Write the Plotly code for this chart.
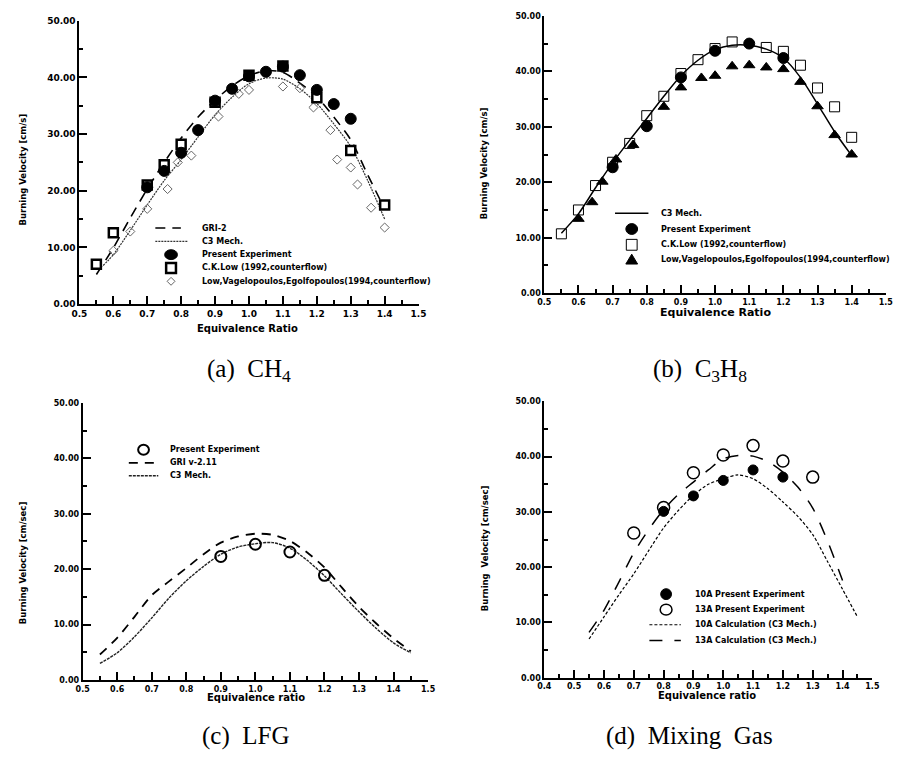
import plotly.graph_objects as go

W, H = 901, 759

# ---------------- (a) CH4 ----------------
A_GRI_x = [0.55, 0.6, 0.65, 0.7, 0.75, 0.8, 0.85, 0.9, 0.95, 1.0, 1.05, 1.1, 1.15, 1.2, 1.25, 1.3, 1.35, 1.4]
A_GRI_y = [5.2, 9.9, 15.2, 20.3, 25.0, 29.3, 33.0, 36.0, 38.5, 40.3, 41.2, 40.9, 39.0, 36.6, 33.0, 29.0, 22.8, 16.8]
A_C3_x = [0.57, 0.6, 0.65, 0.7, 0.75, 0.8, 0.85, 0.9, 0.95, 1.0, 1.05, 1.1, 1.15, 1.2, 1.25, 1.3, 1.35, 1.4]
A_C3_y = [6.8, 8.7, 13.0, 17.5, 21.8, 25.5, 29.5, 33.4, 36.5, 38.9, 39.9, 39.7, 38.0, 35.4, 31.8, 27.8, 21.8, 15.0]
A_EXP_x = [0.7, 0.75, 0.8, 0.85, 0.9, 0.95, 1.0, 1.05, 1.1, 1.15, 1.2, 1.25, 1.3]
A_EXP_y = [20.6, 23.5, 26.7, 30.7, 35.9, 38.0, 40.2, 41.0, 41.9, 40.4, 37.8, 35.3, 32.7]
A_CKL_x = [0.55, 0.6, 0.7, 0.75, 0.8, 0.9, 1.0, 1.1, 1.2, 1.3, 1.4]
A_CKL_y = [7.0, 12.6, 21.0, 24.6, 28.2, 35.6, 40.4, 42.0, 36.4, 27.1, 17.5]
A_LVE_x = [0.6, 0.65, 0.7, 0.76, 0.79, 0.83, 0.91, 0.97, 1.0, 1.1, 1.15, 1.19, 1.24, 1.26, 1.3, 1.32, 1.36, 1.4]
A_LVE_y = [9.4, 12.8, 16.8, 20.3, 25.0, 26.2, 33.1, 37.1, 37.8, 38.4, 38.1, 34.7, 30.7, 25.5, 24.1, 21.1, 17.0, 13.5]

# ---------------- (b) C3H8 ----------------
B_C3_x = [0.55, 0.6, 0.65, 0.7, 0.75, 0.8, 0.85, 0.9, 0.95, 1.0, 1.05, 1.1, 1.15, 1.2, 1.25, 1.3, 1.35, 1.4]
B_C3_y = [10.8, 14.3, 19.0, 23.5, 27.6, 31.5, 35.5, 39.2, 42.0, 43.9, 44.7, 44.7, 44.0, 42.4, 38.9, 34.1, 29.1, 24.8]
B_EXP_x = [0.7, 0.8, 0.9, 1.0, 1.1, 1.2]
B_EXP_y = [22.7, 30.1, 38.9, 43.7, 45.0, 42.4]
B_CKL_x = [0.55, 0.6, 0.65, 0.7, 0.75, 0.8, 0.85, 0.9, 0.95, 1.0, 1.05, 1.15, 1.2, 1.25, 1.3, 1.35, 1.4]
B_CKL_y = [10.7, 15.0, 19.4, 23.6, 27.0, 32.0, 35.5, 39.6, 42.1, 44.1, 45.3, 44.3, 43.6, 41.1, 37.0, 33.6, 28.1]
B_LVE_x = [0.6, 0.64, 0.67, 0.71, 0.76, 0.85, 0.9, 0.96, 1.0, 1.05, 1.1, 1.15, 1.2, 1.25, 1.3, 1.35, 1.4]
B_LVE_y = [13.4, 16.4, 20.1, 24.1, 26.7, 33.6, 37.1, 38.8, 39.2, 40.9, 41.1, 40.7, 40.4, 38.1, 33.7, 28.5, 25.0]

# ---------------- (c) LFG ----------------
C_EXP_x = [0.9, 1.0, 1.1, 1.2]
C_EXP_y = [22.3, 24.5, 23.1, 18.9]
C_CALC_x = [0.55, 0.6, 0.65, 0.7, 0.75, 0.8, 0.85, 0.9, 0.95, 1.0, 1.05, 1.1, 1.15, 1.2, 1.25, 1.3, 1.35, 1.4, 1.45]
C_GRI_y = [4.6, 7.6, 11.4, 15.3, 17.8, 20.2, 22.7, 24.8, 25.9, 26.4, 26.2, 25.1, 23.0, 20.3, 16.7, 13.2, 10.2, 7.5, 5.2]
C_C3_y = [3.0, 4.9, 7.8, 11.2, 14.8, 17.9, 20.5, 22.7, 24.0, 24.6, 24.8, 23.8, 21.6, 18.8, 15.5, 12.3, 9.3, 6.7, 4.9]

# ---------------- (d) Mixing Gas ----------------
D_10A_x = [0.8, 0.9, 1.0, 1.1, 1.2]
D_10A_y = [30.1, 32.9, 35.7, 37.6, 36.3]
D_13A_x = [0.7, 0.8, 0.9, 1.0, 1.1, 1.2, 1.3]
D_13A_y = [26.2, 30.8, 37.1, 40.3, 42.0, 39.2, 36.3]
D_10C_x = [0.55, 0.6, 0.65, 0.7, 0.75, 0.8, 0.85, 0.9, 0.95, 1.0, 1.05, 1.1, 1.15, 1.2, 1.25, 1.3, 1.35, 1.4, 1.45]
D_10C_y = [7.0, 11.0, 15.0, 18.8, 23.0, 27.1, 30.3, 33.0, 35.0, 36.0, 36.7, 36.0, 34.2, 31.8, 29.2, 25.9, 21.0, 16.0, 11.0]
D_13C_x = [0.55, 0.6, 0.65, 0.7, 0.75, 0.8, 0.85, 0.9, 0.95, 1.0, 1.05, 1.1, 1.15, 1.2, 1.25, 1.3, 1.35, 1.4]
D_13C_y = [8.2, 12.2, 17.3, 22.6, 26.8, 30.4, 33.2, 35.4, 37.6, 39.6, 40.2, 40.1, 39.1, 37.2, 34.5, 30.7, 24.7, 17.6]

# legend labels
A_NAMES = ["GRI-2", "C3 Mech.", "Present Experiment", "C.K.Low (1992,counterflow)",
           "Low,Vagelopoulos,Egolfopoulos(1994,counterflow)"]
B_NAMES = ["C3 Mech.", "Present Experiment", "C.K.Low (1992,counterflow)",
           "Low,Vagelopoulos,Egolfopoulos(1994,counterflow)"]
C_NAMES = ["Present Experiment", "GRI v-2.11", "C3 Mech."]
D_NAMES = ["10A Present Experiment", "13A Present Experiment",
           "10A Calculation (C3 Mech.)", "13A Calculation (C3 Mech.)"]

FONT = "DejaVu Sans"
BK = "black"

def px(x):
    return x / W

def py(y):
    return 1 - y / H

fig = go.Figure()

# style definitions (used for both the plotted traces and the hand-drawn keys)
ST = {
    "a_gri": dict(dash="10px,7px", width=1.6, color=BK),
    "a_c3": dict(dash="2px,1px", width=1.2, color="#333"),
    "b_c3": dict(dash="solid", width=1.5, color=BK),
    "c_gri": dict(dash="9px,7px", width=1.8, color=BK),
    "c_c3": dict(dash="3px,1px", width=1.4, color="#222"),
    "d_10": dict(dash="3px,2px", width=1.2, color=BK),
    "d_13": dict(dash="13px,12px", width=1.5, color=BK),
}

def line(x, y, ax, st):
    s = ST[st]
    fig.add_trace(go.Scatter(x=x, y=y, mode="lines", xaxis="x" + ax, yaxis="y" + ax, showlegend=False,
                             line=dict(color=s["color"], width=s["width"], dash=s["dash"],
                                       shape="spline", smoothing=0.8)))

def pts(x, y, ax, symbol, size, color=BK, lw=1, fill=None):
    m = dict(symbol=symbol, size=size, color=color, line=dict(color=BK, width=lw))
    if fill is not None:
        m["color"] = fill
    fig.add_trace(go.Scatter(x=x, y=y, mode="markers", xaxis="x" + ax, yaxis="y" + ax,
                             showlegend=False, marker=m))

# (a)
line(A_GRI_x, A_GRI_y, "", "a_gri")
line(A_C3_x, A_C3_y, "", "a_c3")
pts(A_LVE_x, A_LVE_y, "", "diamond-open", 7, color="#666", lw=1)
pts(A_CKL_x, A_CKL_y, "", "square", 9, fill="white", lw=2.5)
pts(A_EXP_x, A_EXP_y, "", "circle", 11)

# (b)
line(B_C3_x, B_C3_y, "2", "b_c3")
pts(B_CKL_x, B_CKL_y, "2", "square-open", 10, color=BK, lw=1)
pts(B_LVE_x, B_LVE_y, "2", "triangle-up", 10)
pts(B_EXP_x, B_EXP_y, "2", "circle", 11)

# (c)
line(C_CALC_x, C_GRI_y, "3", "c_gri")
line(C_CALC_x, C_C3_y, "3", "c_c3")
pts(C_EXP_x, C_EXP_y, "3", "circle-open", 11, color=BK, lw=2)

# (d)
line(D_10C_x, D_10C_y, "4", "d_10")
line(D_13C_x, D_13C_y, "4", "d_13")
pts(D_10A_x, D_10A_y, "4", "circle", 10)
pts(D_13A_x, D_13A_y, "4", "circle-open", 12, color=BK, lw=1.5)

# ---------------- axes ----------------
panels = {
    "": dict(x=(72.7, 418), y=(16, 303), xr=(0.5, 1.5), fs=9),
    "2": dict(x=(546, 893.7), y=(11, 292), xr=(0.5, 1.5), fs=8),
    "3": dict(x=(76, 427.7), y=(403.3, 684), xr=(0.5, 1.5), fs=8),
    "4": dict(x=(546, 880), y=(401.7, 681.7), xr=(0.4, 1.5), fs=8),
}

lay = {}
for k, p in panels.items():
    tf = dict(family=FONT, size=p["fs"], color=BK, weight="bold")
    lay["xaxis" + k] = dict(domain=[px(p["x"][0]), px(p["x"][1])], range=list(p["xr"]), anchor="y" + k,
                            showline=True, linecolor=BK, linewidth=2, showgrid=False, zeroline=False,
                            ticks="inside", ticklen=8, tickwidth=2, tickcolor=BK, dtick=0.1, tick0=0.5,
                            tickformat=".1f", tickfont=tf,
                            minor=dict(dtick=0.05, ticks="inside", ticklen=4, tickwidth=1.5, tickcolor=BK))
    lay["yaxis" + k] = dict(domain=[py(p["y"][1]), py(p["y"][0])], range=[0, 50], anchor="x" + k,
                            showline=True, linecolor=BK, linewidth=2, showgrid=False, zeroline=False,
                            ticks="inside", ticklen=8, tickwidth=2, tickcolor=BK, dtick=10,
                            tickformat=".2f", tickfont=tf,
                            minor=dict(dtick=5, ticks="inside", ticklen=4, tickwidth=1.5, tickcolor=BK))

ann = []
shapes = []

def text(x, y, s, size, family=FONT, bold=True, angle=0, anchor="center"):
    ann.append(dict(x=px(x), y=py(y), xref="paper", yref="paper", text=s, showarrow=False,
                    textangle=angle, xanchor=anchor, yanchor="middle",
                    font=dict(family=family, size=size, color=BK, weight="bold" if bold else "normal")))

# ---- hand-drawn legend keys ----
def key_line(x0, x1, y, st):
    s = ST[st]
    shapes.append(dict(type="line", xref="paper", yref="paper", x0=px(x0), x1=px(x1), y0=py(y), y1=py(y),
                       line=dict(color=s["color"], width=s["width"], dash=s["dash"])))

def key_circle(cx, cy, rx, ry, fill, lw=1, lcolor=BK):
    shapes.append(dict(type="circle", xref="paper", yref="paper",
                       x0=px(cx - rx), x1=px(cx + rx), y0=py(cy + ry), y1=py(cy - ry),
                       fillcolor=fill, line=dict(color=lcolor, width=lw)))

def key_rect(cx, cy, r, fill, lw=1):
    shapes.append(dict(type="rect", xref="paper", yref="paper",
                       x0=px(cx - r), x1=px(cx + r), y0=py(cy + r), y1=py(cy - r),
                       fillcolor=fill, line=dict(color=BK, width=lw)))

def key_poly(pts_, fill, lw=1, lcolor=BK):
    d = "M " + " L ".join(f"{px(a):.5f},{py(b):.5f}" for a, b in pts_) + " Z"
    shapes.append(dict(type="path", xref="paper", yref="paper", path=d, fillcolor=fill,
                       line=dict(color=lcolor, width=lw)))

LF = 8
# (a) legend
ay = [226, 239.5, 253, 266.5, 280]
key_line(150, 176, ay[0], "a_gri")
key_line(150, 183, ay[1], "a_c3")
key_circle(166, ay[2], 6.5, 5, BK)
key_rect(166, ay[3], 5, "white", lw=2.5)
key_poly([(166, ay[4] - 4), (170, ay[4]), (166, ay[4] + 4), (162, ay[4])], "rgba(0,0,0,0)", lw=1, lcolor="#666")
for yy, s in zip(ay, A_NAMES):
    text(195, yy, s, LF, anchor="left")

# (b) legend
by = [211, 227, 243, 258]
key_line(618, 652, by[0], "b_c3")
key_circle(635, by[1], 6, 5.5, BK)
key_rect(635, by[2], 5.5, "white", lw=1)
key_poly([(635, by[3] - 5.5), (641, by[3] + 4.5), (629, by[3] + 4.5)], BK)
for yy, s in zip(by, B_NAMES):
    text(663, yy, s, LF, anchor="left")

# (c) legend
cy_ = [450.7, 464, 477]
key_circle(138, cy_[0], 5.5, 5, "white", lw=2)
key_line(123, 153, cy_[1], "c_gri")
key_line(123, 153, cy_[2], "c_c3")
for yy, s in zip(cy_, C_NAMES):
    text(163, yy, s, LF, anchor="left")

# (d) legend
dy = [597, 612.7, 628, 644]
key_circle(670, dy[0], 5.5, 5.5, BK)
key_circle(670, dy[1], 6, 5.5, "white", lw=1.5)
key_line(653, 685, dy[2], "d_10")
key_line(653, 685, dy[3], "d_13")
for yy, s in zip(dy, D_NAMES):
    text(697, yy, s, LF, anchor="left")

# axis titles
text(244, 328, "Equivalence Ratio", 10)
text(720, 312, "Equivalence Ratio", 11)
text(252, 702, "Equivalence ratio", 10)
text(712, 700, "Equivalence ratio", 10)
text(15, 167, "Burning Velocity [cm/s]", 8.5, angle=-90)
text(485, 160, "Burning Velocity [cm/s]", 8.5, angle=-90)
text(15, 565, "Burning Velocity [cm/sec]", 8.5, angle=-90)
text(485, 550, "Burning  Velocity [cm/sec]", 8.5, angle=-90)

# captions
CAP = 25
text(245, 370, "(a)  CH<sub>4</sub>", CAP, family="Liberation Serif", bold=False)
text(705, 370, "(b)  C<sub>3</sub>H<sub>8</sub>", CAP, family="Liberation Serif", bold=False)
text(242, 741, "(c)  LFG", CAP, family="Liberation Serif", bold=False)
text(694, 741, "(d)  Mixing  Gas", CAP, family="Liberation Serif", bold=False)

fig.update_layout(width=W, height=H, margin=dict(l=0, r=0, t=0, b=0),
                  paper_bgcolor="white", plot_bgcolor="white", showlegend=False,
                  annotations=ann, shapes=shapes, **lay)

fig.write_html("out.html")
